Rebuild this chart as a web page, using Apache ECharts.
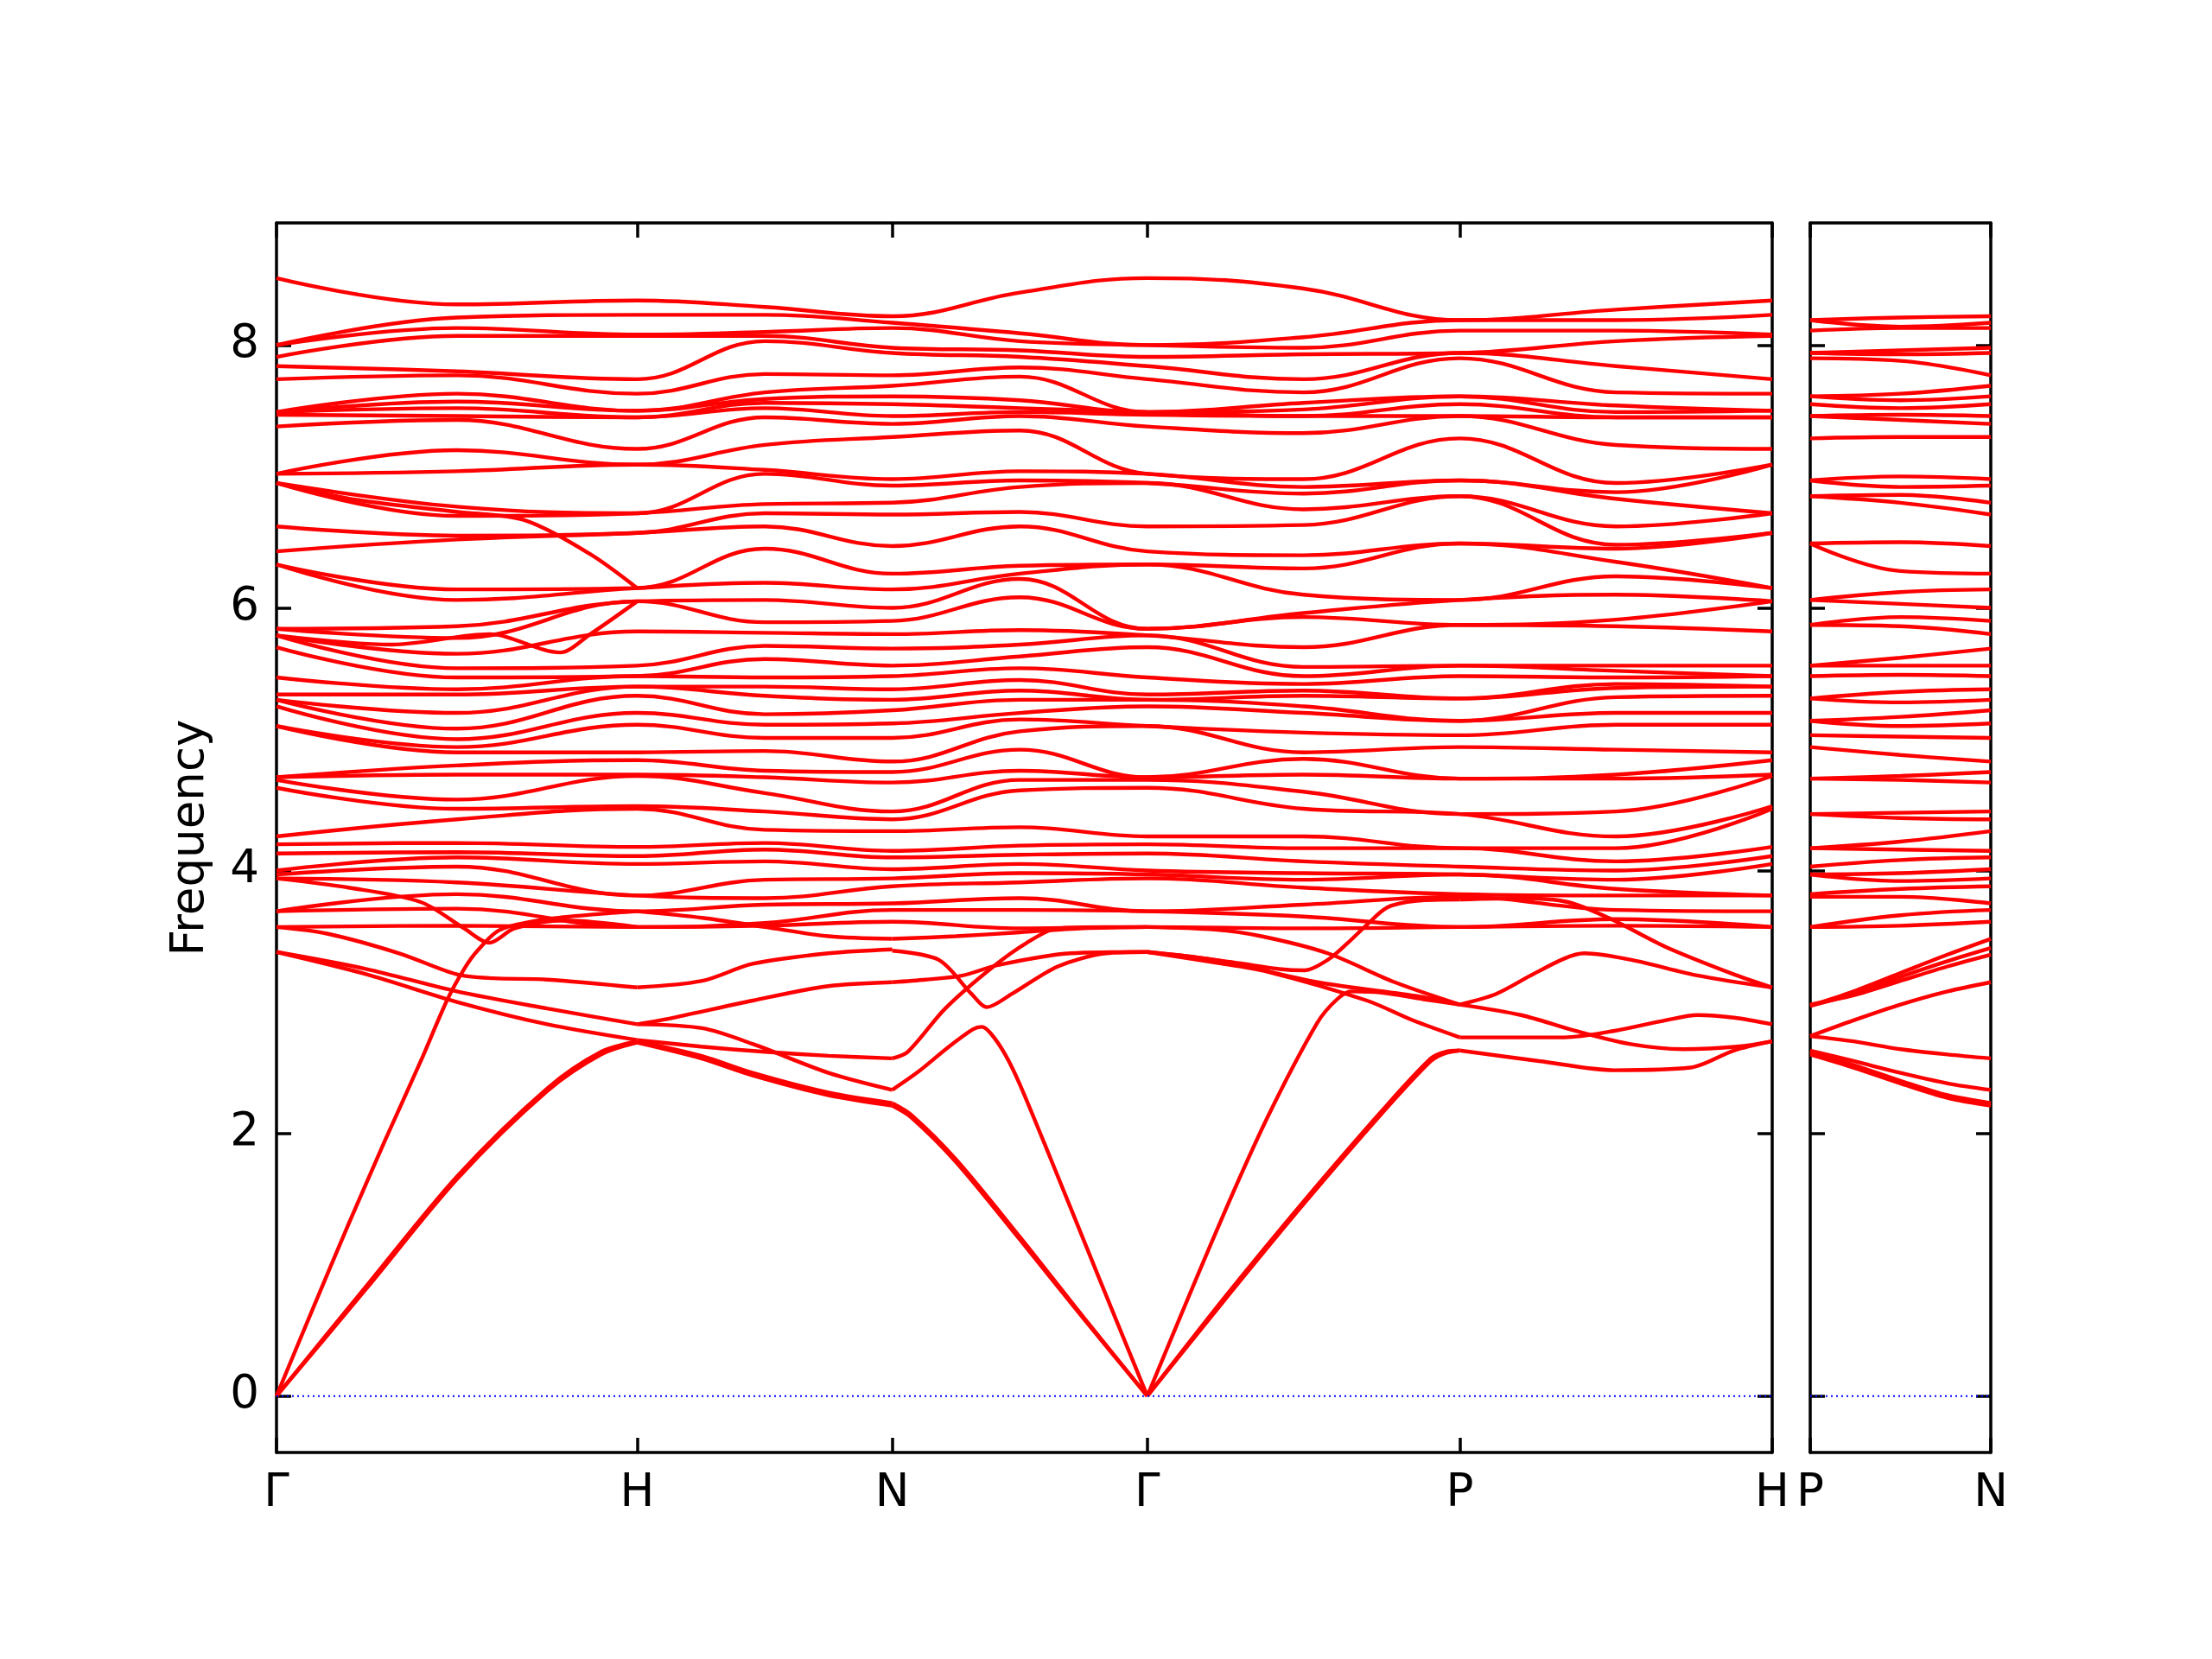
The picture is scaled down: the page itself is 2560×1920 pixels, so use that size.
<!DOCTYPE html>
<html><head><meta charset="utf-8">
<script src="https://cdn.jsdelivr.net/npm/echarts@6/dist/echarts.min.js"></script>
<style>html,body{margin:0;padding:0;background:#fff}#c{width:2560px;height:1920px}</style>
</head><body><div id="c"></div>
<script>
// ---- path / ticks ----
const mainTicks = [0, 1, 1.7071, 2.4142, 3.2802, 4.1463];
const mainLabels = ['Γ', 'H', 'N', 'Γ', 'P', 'H'];
const sideTicks = [0, 0.5];
const sideLabels = ['P', 'N'];
const yTicks = [0, 2, 4, 6, 8];

// knot positions (path distance) for the upper band table
const qMain = [0, 0.5, 1, 1.3536, 1.7071, 2.0607, 2.4142, 2.8472, 3.2802, 3.7133, 4.1463];
const qSide = [0, 0.25, 0.5];

// upper bands (sorted, high to low) at each knot
const fG  = [8.51,8.00,8.00,7.91,7.84,7.74,7.49,7.49,7.49,7.47,7.38,7.02,7.02,6.95,6.95,6.62,6.43,6.33,6.33,5.84,5.84,5.79,5.79,5.70,5.47,5.34,5.30,5.30,5.25,5.10,5.10,4.71,4.71,4.69,4.63,4.26,4.20,4.13,4.00,3.97,3.94,3.69,3.69,3.57];
const fGH = [8.31,8.21,8.13,8.07,7.80,7.77,7.63,7.57,7.52,7.46,7.43,7.20,7.04,6.77,6.70,6.55,6.52,6.14,6.06,5.86,5.77,5.65,5.54,5.47,5.38,5.34,5.20,5.08,5.00,4.94,4.90,4.80,4.73,4.54,4.47,4.39,4.21,4.14,4.10,4.03,3.91,3.82,3.71,3.58];
const fH  = [8.34,8.23,8.08,8.07,7.74,7.63,7.50,7.50,7.45,7.45,7.21,7.09,7.09,6.72,6.72,6.57,6.57,6.15,6.15,6.05,6.05,5.82,5.56,5.48,5.48,5.40,5.40,5.33,5.20,5.11,4.90,4.84,4.73,4.72,4.49,4.47,4.18,4.11,4.05,3.81,3.81,3.69,3.57,3.57];
const fHN = [8.29,8.23,8.10,8.07,8.03,7.78,7.64,7.59,7.56,7.52,7.45,7.24,7.05,7.02,6.79,6.72,6.62,6.45,6.19,6.06,5.89,5.81,5.71,5.61,5.47,5.40,5.33,5.19,5.11,5.01,4.91,4.76,4.71,4.59,4.45,4.31,4.21,4.16,4.07,3.93,3.79,3.74,3.60,3.58];
const fN  = [8.22,8.17,8.13,7.98,7.94,7.77,7.69,7.61,7.55,7.46,7.40,7.30,6.98,6.93,6.80,6.71,6.47,6.26,6.14,6.00,5.90,5.80,5.69,5.56,5.48,5.38,5.30,5.22,5.12,5.01,4.83,4.75,4.67,4.45,4.39,4.30,4.15,4.10,4.01,3.94,3.88,3.75,3.70,3.61];
const fNG = [8.40,8.09,8.03,7.96,7.91,7.83,7.76,7.58,7.52,7.49,7.46,7.35,7.04,6.97,6.92,6.73,6.62,6.32,6.26,6.22,6.08,5.83,5.72,5.63,5.54,5.45,5.37,5.30,5.20,5.15,5.06,4.92,4.76,4.69,4.61,4.33,4.19,4.12,4.05,3.98,3.91,3.79,3.70,3.56];
const fGP = [8.43,8.06,7.98,7.93,7.74,7.64,7.56,7.51,7.46,7.46,7.33,6.98,6.92,6.87,6.75,6.63,6.40,6.30,6.10,5.96,5.93,5.70,5.55,5.48,5.42,5.37,5.33,5.25,5.20,5.05,4.90,4.85,4.73,4.60,4.47,4.26,4.17,4.07,3.98,3.93,3.87,3.74,3.65,3.56];
const fP  = [8.19,8.19,8.11,7.94,7.94,7.90,7.61,7.61,7.55,7.46,7.46,7.29,6.97,6.97,6.85,6.85,6.49,6.49,6.06,6.06,5.87,5.87,5.56,5.56,5.48,5.31,5.31,5.14,5.14,5.03,4.94,4.70,4.70,4.43,4.43,4.17,4.17,4.03,3.97,3.97,3.82,3.80,3.57,3.57];
const fPH = [8.27,8.19,8.11,8.03,7.84,7.64,7.54,7.49,7.45,7.45,7.24,6.95,6.88,6.83,6.62,6.48,6.45,6.35,6.24,6.10,5.91,5.86,5.56,5.52,5.47,5.42,5.39,5.32,5.20,5.11,4.92,4.73,4.70,4.45,4.26,4.17,4.07,4.00,3.93,3.86,3.81,3.70,3.63,3.58];
const fPN = [8.21,8.14,8.13,7.96,7.93,7.88,7.63,7.58,7.52,7.47,7.43,7.30,7.00,6.92,6.86,6.80,6.50,6.28,6.12,6.03,5.93,5.86,5.62,5.56,5.49,5.36,5.28,5.17,5.10,5.02,4.88,4.72,4.69,4.44,4.40,4.22,4.16,4.08,3.98,3.92,3.86,3.80,3.66,3.58];

// lower branches, per segment, as [q, frequency]
const lowGH = [
  [[0,0],[0.25,0.82],[0.5,1.65],[0.75,2.32],[0.9,2.6],[1,2.69]],
  [[0,0],[0.25,0.84],[0.5,1.67],[0.75,2.34],[0.9,2.62],[1,2.70]],
  [[0,0],[0.1,0.66],[0.2,1.31],[0.3,1.94],[0.4,2.55],[0.474,3.02],[0.52,3.25],[0.557,3.39],[0.62,3.55],[0.75,3.63],[0.9,3.67],[1,3.69]],
  [[0,3.38],[0.25,3.25],[0.5,3.08],[0.75,2.95],[1,2.83]],
  [[0,3.38],[0.25,3.21],[0.5,3.0],[0.75,2.83],[1,2.71]],
  [[0,3.57],[0.14,3.52],[0.34,3.37],[0.5,3.21],[0.6,3.18],[0.75,3.17],[1,3.11]],
  [[0,3.94],[0.2,3.87],[0.4,3.76],[0.52,3.56],[0.59,3.45],[0.66,3.56],[0.8,3.62],[1,3.57]],
  [[0,6.95],[0.227,6.82],[0.502,6.73],[0.685,6.67],[0.869,6.41],[1,6.15]],
  [[0,5.79],[0.32,5.72],[0.59,5.80],[0.786,5.66],[0.87,5.8],[1,6.05]]
];
const lowHN = [
  [[1,2.69],[1.177,2.57],[1.32,2.44],[1.53,2.29],[1.707,2.21]],
  [[1,2.70],[1.177,2.59],[1.32,2.46],[1.53,2.31],[1.707,2.23]],
  [[1,2.71],[1.177,2.66],[1.354,2.62],[1.53,2.59],[1.707,2.57]],
  [[1,2.83],[1.18,2.80],[1.32,2.68],[1.53,2.46],[1.707,2.33]],
  [[1,2.83],[1.1,2.88],[1.32,3.01],[1.53,3.12],[1.707,3.15]],
  [[1,3.11],[1.18,3.16],[1.32,3.29],[1.53,3.37],[1.707,3.40]],
  [[1,3.69],[1.18,3.64],[1.354,3.57],[1.53,3.5],[1.707,3.48]]
];
const lowNG = [
  [[1.707,2.21],[1.76,2.12],[1.884,1.78],[2.061,1.19],[2.237,0.59],[2.414,0]],
  [[1.707,2.23],[1.76,2.14],[1.884,1.80],[2.061,1.21],[2.237,0.60],[2.414,0]],
  [[1.707,2.33],[1.78,2.47],[1.86,2.65],[1.93,2.79],[1.955,2.81],[1.98,2.76],[2.02,2.6],[2.061,2.37],[2.147,1.8],[2.28,0.9],[2.414,0]],
  [[1.707,2.57],[1.75,2.62],[1.854,2.95],[1.983,3.26],[2.08,3.45],[2.165,3.56],[2.3,3.57],[2.414,3.57]],
  [[1.707,3.39],[1.836,3.32],[1.927,3.06],[1.969,2.96],[2.038,3.06],[2.166,3.27],[2.3,3.37],[2.414,3.38]],
  [[1.707,3.15],[1.8,3.17],[1.9,3.2],[2.0,3.28],[2.2,3.37],[2.414,3.38]],
  [[1.707,3.48],[1.884,3.5],[2.061,3.53],[2.237,3.56],[2.414,3.57]]
];
const lowGP = [
  [[2.414,0],[2.631,0.74],[2.847,1.46],[3.064,2.15],[3.2,2.55],[3.24,2.61],[3.28,2.63]],
  [[2.414,0],[2.631,0.76],[2.847,1.48],[3.064,2.17],[3.2,2.57],[3.24,2.62],[3.28,2.63]],
  [[2.414,0],[2.611,1.29],[2.747,2.12],[2.885,2.84],[2.94,3.02],[2.98,3.08],[3.064,3.07],[3.18,3.02],[3.28,2.98]],
  [[2.414,3.38],[2.62,3.31],[2.886,3.15],[3.17,3.04],[3.28,2.98]],
  [[2.414,3.38],[2.6,3.3],[2.747,3.23],[3.023,3.01],[3.15,2.86],[3.28,2.73]],
  [[2.414,3.38],[2.55,3.34],[2.68,3.29],[2.78,3.25],[2.85,3.24],[2.914,3.32],[2.97,3.45],[3.02,3.58],[3.08,3.72],[3.16,3.77],[3.28,3.78]],
  [[2.414,3.57],[2.6,3.55],[2.73,3.5],[2.914,3.37],[3.1,3.15],[3.28,2.98]]
];
const lowPH = [
  [[3.28,2.63],[3.5,2.55],[3.71,2.48],[3.92,2.5],[4.04,2.63],[4.146,2.70]],
  [[3.28,2.98],[3.45,2.9],[3.6,2.78],[3.75,2.68],[3.9,2.64],[4.05,2.66],[4.146,2.70]],
  [[3.28,2.73],[3.57,2.73],[3.71,2.78],[3.85,2.86],[3.94,2.9],[4.04,2.88],[4.146,2.83]],
  [[3.28,2.98],[3.38,3.06],[3.476,3.2],[3.57,3.33],[3.625,3.37],[3.756,3.32],[3.942,3.2],[4.146,3.11]],
  [[3.28,3.78],[3.45,3.79],[3.58,3.76],[3.70,3.63],[3.85,3.42],[4.04,3.21],[4.146,3.11]]
];
const lowPN = [
  [[0,2.97],[0.12,3.08],[0.25,3.22],[0.38,3.36],[0.5,3.48]],
  [[0,2.97],[0.12,3.06],[0.25,3.19],[0.38,3.31],[0.5,3.41]],
  [[0,2.98],[0.12,3.05],[0.25,3.16],[0.38,3.27],[0.5,3.36]],
  [[0,2.74],[0.12,2.86],[0.25,2.98],[0.38,3.08],[0.5,3.15]],
  [[0,2.74],[0.12,2.70],[0.25,2.64],[0.38,2.60],[0.5,2.57]],
  [[0,2.63],[0.12,2.55],[0.25,2.46],[0.38,2.38],[0.5,2.33]],
  [[0,2.62],[0.12,2.52],[0.25,2.40],[0.38,2.29],[0.5,2.23]],
  [[0,2.60],[0.12,2.50],[0.25,2.38],[0.38,2.27],[0.5,2.21]]
];

// ---- build chart ----
const RED = '#ff0000';
const FONT = 'DejaVu Sans';
const LW = 4.4;
const chart = echarts.init(document.getElementById('c'), null, {renderer: 'canvas', width: 2560, height: 1920});

function band(data, xi, yi, smooth) {
  return {type: 'line', xAxisIndex: xi, yAxisIndex: yi, data: data, symbol: 'none', showSymbol: false,
    smooth: smooth, silent: true, animation: false, lineStyle: {color: RED, width: LW}, z: 2};
}
const series = [];
const mainCols = [fG, fGH, fH, fHN, fN, fNG, fG, fGP, fP, fPH, fH];
const sideCols = [fP, fPN, fN];
for (let b = 0; b < fG.length; b++) {
  series.push(band(qMain.map((q, i) => [q, mainCols[i][b]]), 0, 0, 0.4));
  series.push(band(qSide.map((q, i) => [q, sideCols[i][b]]), 2, 2, 0.4));
}
[lowGH, lowHN, lowNG, lowGP, lowPH].forEach(seg => seg.forEach(c => series.push(band(c, 0, 0, 0.3))));
lowPN.forEach(c => series.push(band(c, 2, 2, 0.3)));
// zero lines
const zl = {color: '#0000ff', width: 2, type: [2, 4]};
series.push({type: 'line', xAxisIndex: 0, yAxisIndex: 0, data: [[0, 0], [4.1463, 0]], symbol: 'none', silent: true, animation: false, lineStyle: zl, z: 3});
series.push({type: 'line', xAxisIndex: 2, yAxisIndex: 2, data: [[0, 0], [0.5, 0]], symbol: 'none', silent: true, animation: false, lineStyle: zl, z: 3});

const spine = {show: true, onZero: false, lineStyle: {color: '#000', width: 3.5}};
function tick(vals) { return {show: true, inside: true, length: 17, customValues: vals, lineStyle: {color: '#000', width: 3.5}}; }
function lab(vals, names) {
  return {show: true, customValues: vals, color: '#000', fontFamily: FONT, fontSize: 53, margin: 22,
    formatter: function (v) {
      let best = 0, d = 1e9;
      vals.forEach((t, i) => { if (Math.abs(t - v) < d) { d = Math.abs(t - v); best = i; } });
      return names ? names[best] : String(vals[best]);
    }};
}
const noLab = {show: false};
const YMIN = -0.43, YMAX = 8.93;

const option = {
  backgroundColor: '#ffffff',
  animation: false,
  grid: [
    {left: 320, top: 258, width: 1731, height: 1423, containLabel: false},
    {left: 2095, top: 258, width: 209, height: 1423, containLabel: false}
  ],
  xAxis: [
    {type: 'value', gridIndex: 0, min: 0, max: 4.1463, position: 'bottom', axisLine: spine, axisTick: tick(mainTicks), axisLabel: lab(mainTicks, mainLabels), splitLine: {show: false}},
    {type: 'value', gridIndex: 0, min: 0, max: 4.1463, position: 'top', axisLine: spine, axisTick: tick(mainTicks), axisLabel: noLab, splitLine: {show: false}},
    {type: 'value', gridIndex: 1, min: 0, max: 0.5, position: 'bottom', axisLine: spine, axisTick: tick(sideTicks), axisLabel: lab(sideTicks, sideLabels), splitLine: {show: false}},
    {type: 'value', gridIndex: 1, min: 0, max: 0.5, position: 'top', axisLine: spine, axisTick: tick(sideTicks), axisLabel: noLab, splitLine: {show: false}}
  ],
  yAxis: [
    {type: 'value', gridIndex: 0, min: YMIN, max: YMAX, position: 'left', axisLine: spine, axisTick: tick(yTicks), axisLabel: Object.assign(lab(yTicks, null), {margin: 20}), splitLine: {show: false},
      name: 'Frequency', nameLocation: 'middle', nameGap: 72, nameRotate: 90, nameTextStyle: {color: '#000', fontFamily: FONT, fontSize: 53}},
    {type: 'value', gridIndex: 0, min: YMIN, max: YMAX, position: 'right', axisLine: spine, axisTick: tick(yTicks), axisLabel: noLab, splitLine: {show: false}},
    {type: 'value', gridIndex: 1, min: YMIN, max: YMAX, position: 'left', axisLine: spine, axisTick: tick(yTicks), axisLabel: noLab, splitLine: {show: false}},
    {type: 'value', gridIndex: 1, min: YMIN, max: YMAX, position: 'right', axisLine: spine, axisTick: tick(yTicks), axisLabel: noLab, splitLine: {show: false}}
  ],
  series: series
};
chart.setOption(option);
</script>
</body></html>
